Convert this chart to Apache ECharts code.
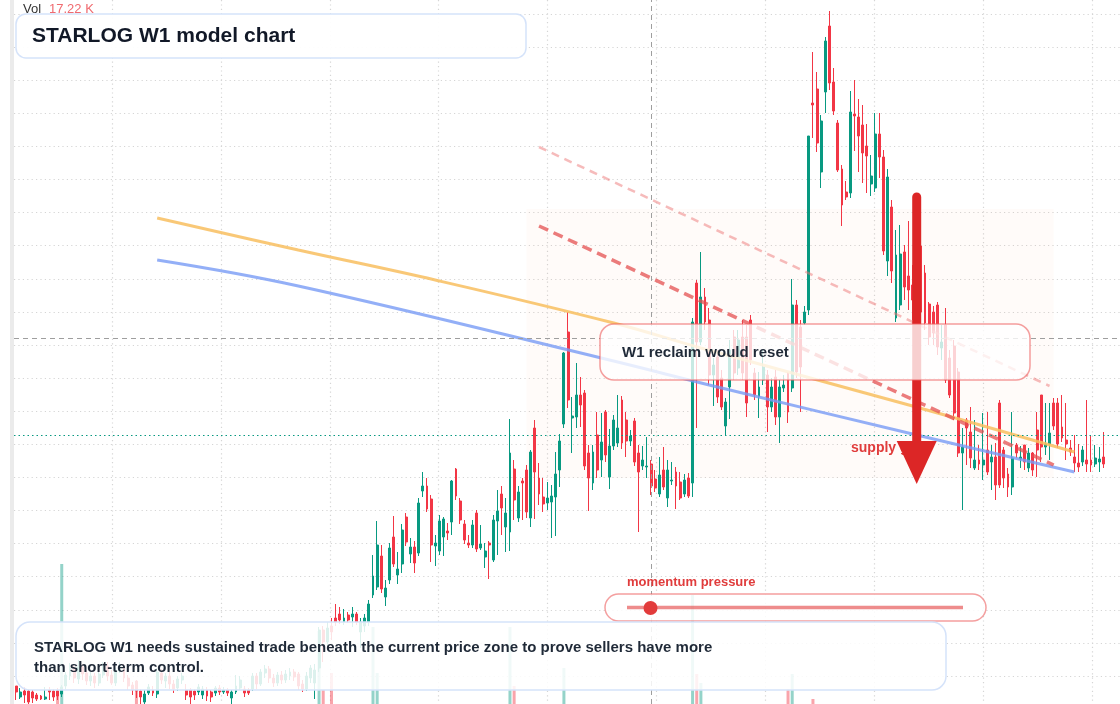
<!DOCTYPE html>
<html>
<head>
<meta charset="utf-8">
<title>STARLOG W1 model chart</title>
<script src="https://cdn.jsdelivr.net/npm/echarts@6/dist/echarts.min.js"></script>
<style>
  html, body { margin: 0; padding: 0; background: #fff; }
  #chart { width: 1120px; height: 704px; }
</style>
</head>
<body>
<div id="chart"></div>
<script>
// candles: [open, close, low, high]
const candles = [
  [3.8, 3.2, 2.4, 3.8], [2.7, 3.2, 2.5, 3.6], [3.3, 2.9, 2.1, 3.7], [3.3, 2.2, 2.0, 3.4], [3.2, 2.6, 2.1, 3.4],
  [2.9, 2.5, 2.3, 3.1], [2.8, 2.5, 2.4, 2.9], [2.5, 2.7, 2.4, 3.7], [3.4, 3.2, 2.4, 3.7], [3.3, 2.7, 2.3, 3.5],
  [3.3, 2.8, 2.4, 3.6], [3.0, 3.7, 2.7, 3.9], [3.8, 4.9, 3.5, 5.2], [4.8, 5.6, 4.4, 6.1], [5.6, 4.6, 4.1, 5.9],
  [4.5, 5.7, 4.0, 6.4], [5.7, 5.0, 4.4, 6.0], [5.1, 4.3, 3.9, 5.4], [4.3, 4.8, 3.8, 5.2], [4.8, 4.1, 3.6, 5.1],
  [4.1, 5.0, 3.8, 5.4], [4.9, 5.8, 4.6, 6.2], [5.8, 4.8, 4.3, 6.2], [4.9, 4.1, 3.9, 5.4], [4.1, 5.4, 3.8, 5.6],
  [5.3, 5.8, 5.1, 6.2], [5.8, 4.6, 4.2, 6.0], [4.6, 3.8, 3.4, 4.9], [3.9, 3.4, 2.9, 4.2], [4.3, 3.3, 2.6, 4.4],
  [3.3, 2.7, 2.0, 3.5], [2.2, 3.0, 2.0, 3.4], [3.1, 3.7, 2.9, 4.0], [3.4, 3.1, 2.8, 3.8], [3.0, 5.2, 2.6, 5.6],
  [5.1, 4.4, 4.0, 5.5], [4.3, 4.8, 3.6, 5.1], [4.8, 4.0, 3.5, 5.2], [4.0, 3.5, 3.1, 4.4], [3.6, 4.5, 3.3, 4.8],
  [4.4, 4.8, 4.0, 5.1], [3.4, 2.9, 2.4, 4.0], [3.4, 2.7, 2.0, 3.6], [3.3, 2.9, 2.4, 3.5], [3.2, 3.7, 2.9, 4.0],
  [2.9, 3.5, 2.5, 3.8], [3.4, 2.8, 2.3, 3.7], [3.2, 2.7, 2.2, 3.4], [3.1, 3.6, 2.8, 3.8], [3.6, 3.2, 2.9, 3.9],
  [3.2, 3.4, 3.0, 3.7], [3.4, 3.1, 2.8, 3.6], [2.6, 3.2, 2.0, 3.4], [3.2, 3.8, 3.0, 4.9], [3.6, 4.4, 3.4, 4.8],
  [3.5, 3.1, 2.7, 3.8], [3.4, 3.1, 2.9, 3.6], [3.5, 4.8, 3.3, 5.1], [4.8, 4.0, 3.5, 5.1], [4.0, 5.2, 3.8, 5.5],
  [5.1, 5.5, 4.6, 5.9], [5.5, 4.6, 4.1, 5.8], [4.6, 4.1, 3.7, 5.0], [4.1, 4.9, 3.8, 5.2], [4.9, 4.4, 4.0, 5.3],
  [4.4, 5.0, 4.1, 5.4], [4.8, 5.2, 4.4, 5.6], [5.2, 4.7, 4.3, 5.5], [5.0, 3.8, 3.4, 5.2], [4.0, 3.5, 3.2, 4.4],
  [3.5, 4.8, 3.3, 5.2], [4.6, 5.6, 4.1, 5.9], [4.1, 5.4, 2.5, 6.0], [5.6, 9.4, 5.2, 9.7], [9.4, 8.2, 6.2, 9.8],
  [8.2, 9.6, 7.6, 10.2], [9.8, 9.2, 8.4, 10.6], [10.6, 10.2, 9.8, 12.0], [11.0, 10.4, 10.0, 11.7], [10.2, 10.6, 9.9, 11.5],
  [10.9, 10.4, 10.1, 11.2], [10.7, 11.0, 9.7, 11.7], [11.0, 10.2, 9.9, 11.2], [9.2, 10.2, 7.6, 10.6], [9.8, 10.6, 9.2, 11.0],
  [10.2, 12.0, 9.8, 12.4], [12.9, 14.8, 12.6, 16.9], [13.7, 17.9, 13.4, 20.3], [16.8, 13.5, 13.1, 17.9], [12.7, 13.6, 11.8, 14.4],
  [14.4, 17.6, 14.0, 18.1], [18.7, 16.0, 15.7, 20.8], [14.9, 15.5, 14.0, 17.2], [16.0, 19.4, 15.1, 20.0], [20.7, 18.2, 17.8, 21.1],
  [17.0, 17.7, 16.1, 18.6], [17.7, 16.1, 15.1, 18.3], [17.1, 22.1, 16.8, 22.6], [23.3, 23.8, 22.7, 25.2], [23.8, 21.5, 21.2, 24.6],
  [22.5, 17.9, 16.2, 22.9], [17.8, 18.1, 15.8, 18.9], [17.3, 20.3, 16.9, 20.9], [18.7, 20.5, 16.8, 20.7], [19.3, 19.1, 18.4, 20.1],
  [20.2, 24.3, 18.9, 24.4], [25.5, 22.8, 22.4, 25.6], [22.3, 20.4, 20.0, 22.6], [20.0, 18.4, 18.0, 20.4], [18.1, 17.9, 17.6, 18.9],
  [17.9, 19.9, 17.6, 20.4], [21.1, 17.5, 17.2, 21.4], [17.6, 18.0, 17.4, 19.9], [16.7, 17.3, 15.6, 18.1], [18.1, 17.9, 14.5, 18.3],
  [16.4, 20.4, 16.2, 20.9], [20.3, 21.3, 16.9, 23.4], [23.0, 21.6, 18.9, 23.8], [19.7, 21.1, 17.2, 22.6], [19.2, 27.1, 17.3, 30.5],
  [25.5, 22.4, 20.4, 26.4], [20.6, 23.2, 20.2, 23.8], [24.3, 24.1, 20.4, 24.6], [25.4, 21.2, 20.6, 25.9], [20.6, 27.2, 19.7, 27.4],
  [29.6, 25.2, 20.5, 30.4], [24.6, 23.0, 21.9, 26.1], [22.7, 22.0, 21.2, 24.6], [22.1, 22.6, 21.4, 24.2], [22.2, 22.8, 18.6, 23.9],
  [22.7, 25.0, 18.8, 27.2], [25.4, 28.3, 23.7, 29.0], [30.0, 37.1, 29.6, 37.2], [39.2, 32.4, 31.6, 41.2], [30.6, 30.8, 27.1, 32.7],
  [30.7, 32.9, 29.6, 36.1], [32.9, 31.9, 29.7, 34.7], [33.1, 25.8, 25.4, 33.4], [27.1, 24.6, 21.3, 27.9], [24.1, 27.2, 23.4, 27.9],
  [28.9, 25.4, 24.6, 31.2], [26.4, 28.2, 24.7, 31.1], [31.2, 26.9, 26.2, 31.4], [24.7, 27.8, 23.5, 29.5], [27.8, 30.4, 27.4, 30.9],
  [28.1, 29.6, 27.7, 32.9], [32.4, 28.1, 27.5, 32.8], [30.4, 28.3, 26.7, 31.2], [28.3, 28.8, 27.8, 29.4], [30.3, 26.2, 25.8, 30.6],
  [27.1, 25.2, 19.2, 27.9], [25.8, 26.4, 25.4, 27.8], [25.7, 25.8, 24.6, 28.7], [26.0, 23.8, 22.9, 26.4], [24.5, 23.6, 23.2, 25.4],
  [23.0, 24.9, 22.7, 26.7], [25.4, 23.7, 23.4, 27.7], [22.6, 25.4, 21.7, 26.4], [24.3, 24.4, 23.9, 26.2], [25.2, 23.8, 21.5, 25.7],
  [24.2, 22.6, 22.4, 25.2], [23.0, 24.4, 22.7, 25.0], [24.6, 22.8, 22.6, 25.1], [24.1, 40.2, 22.7, 40.6], [44.1, 38.2, 29.6, 44.4],
  [38.2, 42.7, 37.9, 47.2], [42.7, 40.2, 39.4, 43.6], [40.4, 34.9, 33.9, 41.6], [34.9, 35.9, 31.8, 36.6], [36.7, 32.7, 32.1, 37.4],
  [34.6, 31.7, 31.4, 35.4], [29.8, 32.2, 28.9, 32.6], [33.7, 37.4, 30.5, 38.4], [38.7, 35.1, 34.4, 39.4], [35.6, 38.4, 34.9, 39.4],
  [38.7, 35.1, 34.4, 40.4], [38.7, 32.1, 30.7, 39.9], [40.4, 36.4, 35.9, 40.9], [35.1, 32.9, 32.4, 35.6], [32.7, 33.7, 30.6, 35.2],
  [34.4, 35.7, 33.9, 37.4], [34.9, 31.7, 29.2, 35.4], [31.7, 33.7, 31.2, 34.6], [34.7, 30.7, 29.9, 35.4], [30.7, 33.7, 28.1, 34.4],
  [33.6, 33.9, 33.2, 34.9], [35.1, 31.2, 30.1, 35.2], [33.6, 41.9, 33.2, 44.5], [41.9, 35.2, 34.6, 42.4], [39.7, 35.7, 31.2, 40.4],
  [40.1, 41.2, 39.9, 41.8], [41.4, 58.8, 40.9, 58.8], [62.1, 61.9, 58.6, 67.2], [63.5, 58.1, 57.2, 65.2], [55.2, 60.3, 53.6, 60.9],
  [63.2, 68.3, 61.1, 68.7], [69.8, 64.1, 63.4, 71.3], [64.2, 61.3, 60.9, 65.6], [60.1, 55.4, 55.2, 60.4], [55.5, 51.9, 49.8, 55.9],
  [53.2, 52.7, 52.4, 54.3], [53.1, 61.2, 52.6, 63.3], [61.0, 60.8, 57.3, 64.4], [60.7, 58.8, 55.2, 62.5], [59.9, 57.1, 54.1, 61.9],
  [57.8, 56.8, 53.1, 60.0], [54.0, 54.8, 52.8, 56.9], [53.6, 59.0, 53.2, 61.1], [59.0, 56.7, 54.6, 61.1], [56.7, 47.3, 46.9, 57.4],
  [46.3, 54.7, 44.8, 55.5], [51.7, 45.3, 44.1, 52.4], [40.6, 46.9, 40.2, 49.4], [41.9, 47.0, 41.4, 49.9], [47.2, 43.7, 42.4, 47.9],
  [44.8, 43.4, 41.4, 50.3], [43.9, 42.4, 40.4, 45.9], [42.9, 39.4, 38.4, 44.4], [47.8, 41.2, 40.4, 48.4], [45.1, 40.1, 39.4, 45.9],
  [42.0, 38.7, 37.9, 42.2], [41.2, 39.1, 37.9, 41.8], [41.9, 37.7, 36.9, 42.2], [37.6, 38.2, 36.4, 39.9], [39.9, 34.4, 34.1, 41.6],
  [36.6, 32.9, 32.6, 37.4], [37.8, 31.1, 30.4, 38.4], [35.2, 27.1, 26.7, 35.6], [27.1, 27.7, 21.4, 29.6], [30.4, 29.6, 25.9, 30.6],
  [29.2, 26.6, 25.6, 31.7], [25.6, 26.4, 25.4, 30.4], [26.4, 26.0, 25.4, 27.9], [25.9, 26.4, 24.4, 31.1], [27.4, 25.2, 24.9, 31.2],
  [26.2, 26.7, 23.4, 27.9], [26.7, 23.9, 22.4, 28.1], [32.1, 23.9, 23.6, 32.4], [27.4, 24.6, 23.6, 27.7], [25.0, 23.7, 22.7, 25.6],
  [23.7, 26.6, 22.9, 31.2], [27.9, 27.1, 26.6, 28.1], [26.5, 26.7, 25.6, 27.8], [27.9, 26.2, 25.4, 27.9], [25.6, 27.1, 25.2, 27.6],
  [27.1, 25.4, 24.8, 27.2], [29.4, 27.4, 24.7, 31.2], [32.9, 27.7, 26.2, 32.9], [27.7, 28.0, 26.9, 32.1], [28.0, 29.1, 26.4, 32.1],
  [32.1, 29.8, 29.4, 32.6], [32.1, 28.0, 27.6, 32.6], [29.7, 28.6, 28.2, 32.9], [28.4, 28.0, 26.4, 32.1], [27.6, 27.2, 26.8, 28.4],
  [26.7, 26.1, 25.2, 28.9], [26.1, 25.7, 25.2, 28.0], [26.2, 27.4, 25.8, 27.8], [26.4, 26.0, 25.2, 32.4], [26.4, 25.9, 25.2, 28.8],
  [26.0, 26.6, 25.7, 27.9], [26.2, 26.5, 25.2, 27.7], [26.7, 26.0, 25.6, 29.2]
];

// volume in K
const volumes = [
  3.1, 2.4, 4.2, 3.5, 2.8, 1.9, 2.2, 3.0, 2.6, 3.8, 7.0, 19.6, 4.5, 3.2, 2.7, 4.1, 3.3, 2.5, 2.9, 3.6,
  2.1, 3.4, 4.4, 2.8, 3.9, 2.3, 3.1, 4.6, 3.7, 7.4, 4.8, 3.0, 2.6, 3.3, 4.9, 2.4, 3.5, 2.9, 3.8, 2.2,
  3.2, 4.0, 4.7, 2.8, 3.6, 2.5, 3.9, 4.3, 2.7, 3.1, 2.4, 3.4, 4.5, 3.0, 2.6, 3.8, 4.2, 2.9, 3.3, 2.5,
  3.7, 4.1, 2.8, 3.2, 2.6, 3.9, 3.0, 2.4, 4.4, 3.6, 2.9, 4.8, 5.2, 12.9, 7.0, 4.6, 8.7, 4.1, 3.4, 2.8,
  3.5, 3.0, 4.2, 2.7, 3.8, 5.1, 13.3, 8.7, 4.9, 3.6, 4.4, 5.0, 3.2, 4.7, 3.9, 2.9, 3.4, 5.3, 4.1, 3.6,
  4.8, 3.1, 3.7, 4.3, 2.8, 5.0, 4.4, 3.5, 2.9, 2.6, 3.3, 4.6, 3.0, 2.7, 3.8, 4.2, 3.5, 3.1, 2.9, 13.3,
  7.4, 4.1, 3.2, 4.5, 5.1, 4.8, 3.6, 2.9, 2.5, 3.4, 4.0, 5.2, 9.2, 5.4, 4.1, 3.7, 3.3, 4.9, 4.2, 3.6,
  4.4, 3.8, 4.1, 3.5, 3.2, 2.9, 3.9, 3.3, 2.7, 4.0, 4.6, 3.1, 2.8, 3.4, 3.0, 3.6, 3.2, 3.9, 2.6, 3.5,
  3.0, 2.8, 3.3, 16.5, 8.6, 7.7, 4.6, 5.2, 3.9, 4.4, 3.7, 4.1, 4.8, 3.6, 3.2, 3.9, 4.5, 3.4, 3.0, 2.9,
  3.3, 3.8, 3.1, 4.0, 3.5, 2.8, 7.1, 8.6, 5.4, 4.3, 3.6, 5.5, 6.1, 5.3, 4.7, 5.0, 5.4, 4.6, 4.2, 4.9,
  3.8, 5.1, 4.4, 3.9, 4.1, 3.6, 3.3, 4.5, 3.8, 5.2, 4.7, 4.3, 4.9, 4.0, 3.7, 3.4, 4.2, 4.6, 5.0, 4.1,
  3.6, 3.3, 4.0, 2.9, 4.4, 3.7, 4.3, 5.1, 4.8, 3.5, 3.2, 2.9, 2.6, 3.4, 3.0, 3.6, 3.9, 4.2, 3.1, 2.8,
  3.5, 2.7, 2.4, 3.0, 2.6, 2.9, 3.7, 4.1, 3.2, 2.8, 3.4, 3.6, 3.0, 2.7, 2.5, 2.9, 2.6, 2.4, 3.1, 2.8,
  2.5, 2.7, 3.0
];

const emptyTail = 3;
const categories = candles.concat(new Array(emptyTail).fill(null)).map((_, i) => String(i));

// overlays in [candle index, price]
const w1Orange = [[34, 50.6], [68, 47.4], [101, 44.4], [144, 40.1], [165, 37.6], [216, 31.8], [255, 27.2]];
const w1Blue = [[34, 46.4], [68, 43.8], [141, 36.6], [170, 33.6], [216, 29.0], [255, 25.2]];
const upperChannel = [[126, 57.7], [249, 33.8]];
const lowerChannel = [[126, 49.8], [250, 25.9]];
const zone = { from: 123, to: 250, top: 51.5, bottom: 24.6 };
const supplyArrow = [217, 52.7, 24.0, 28.3]; // index, top, tip, head base
const lastPrice = 28.9;
const crosshair = { index: 153, price: 38.6 };
const momentum = 0.07;

const UP = '#089981';
const DOWN = '#f23645';
const FONT = '"Liberation Sans", Arial, sans-serif';

const chart = echarts.init(document.getElementById('chart'));

const dotted = { color: '#d5d5d5', width: 1.2, type: [1.2, 3.2] };
const hidden = { axisLine: { show: false }, axisTick: { show: false }, axisLabel: { show: false } };

const slideX = 627 + (963 - 627) * momentum;

chart.setOption({
  animation: false,
  backgroundColor: '#fff',
  grid: [
    { left: 14, right: 2, top: 0, bottom: 0, outerBoundsMode: 'none' },
    { left: 14, right: 2, top: 560, bottom: 0, outerBoundsMode: 'none' },
    { left: 14, right: 0, top: 14, bottom: 28, outerBoundsMode: 'none' },
    { left: 112, right: 27.9, top: 0, bottom: 0, outerBoundsMode: 'none' },
  ],
  xAxis: [
    { type: 'category', gridIndex: 0, data: categories, show: false },
    { type: 'category', gridIndex: 1, data: categories, show: false },
    { type: 'value', gridIndex: 2, min: 0, max: 1, show: false },
    { type: 'value', gridIndex: 3, min: 0, max: 9, interval: 1, ...hidden, splitLine: { show: true, lineStyle: dotted } },
  ],
  yAxis: [
    { type: 'value', gridIndex: 0, min: 2, max: 72.4, show: false },
    { type: 'value', gridIndex: 1, min: 5.6, max: 20, show: false },
    { type: 'value', gridIndex: 2, min: 0, max: 20, interval: 1, ...hidden, splitLine: { show: true, lineStyle: dotted } },
    { type: 'value', gridIndex: 3, min: 0, max: 1, show: false },
  ],
  series: [
    {
      type: 'bar',
      xAxisIndex: 1,
      yAxisIndex: 1,
      barWidth: 3,
      data: volumes.map((v, i) => ({
        value: v,
        itemStyle: { color: candles[i][1] >= candles[i][0] ? 'rgba(8,153,129,0.43)' : 'rgba(242,54,69,0.45)' },
      })),
      z: 1,
    },
    {
      type: 'candlestick',
      xAxisIndex: 0,
      yAxisIndex: 0,
      barWidth: 2.4,
      data: candles,
      itemStyle: { color: UP, color0: DOWN, borderColor: UP, borderColor0: DOWN, borderWidth: 1 },
      markArea: {
        silent: true,
        itemStyle: { color: 'rgba(245,160,100,0.04)' },
        data: [[{ xAxis: zone.from, yAxis: zone.top }, { xAxis: zone.to, yAxis: zone.bottom }]],
      },
      markLine: {
        silent: true,
        symbol: ['none', 'none'],
        label: { show: false },
        data: [
          { yAxis: lastPrice, lineStyle: { color: UP, width: 1, type: [1.5, 3] } },
          { xAxis: crosshair.index, lineStyle: { color: '#9e9e9e', width: 1, type: [5, 4] } },
          { yAxis: crosshair.price, lineStyle: { color: '#9e9e9e', width: 1, type: [5, 4] } },
        ],
      },
      z: 2,
    },
    {
      type: 'line', xAxisIndex: 0, yAxisIndex: 0, data: w1Orange, smooth: 0.4, showSymbol: false, silent: true,
      lineStyle: { color: 'rgba(248,190,95,0.85)', width: 3 }, z: 3,
    },
    {
      type: 'line', xAxisIndex: 0, yAxisIndex: 0, data: w1Blue, smooth: 0.4, showSymbol: false, silent: true,
      lineStyle: { color: 'rgba(120,155,245,0.8)', width: 3 }, z: 3,
    },
    {
      type: 'line', xAxisIndex: 0, yAxisIndex: 0, data: upperChannel, showSymbol: false, silent: true,
      lineStyle: { color: 'rgba(238,120,120,0.5)', width: 2.5, type: [8, 6] }, z: 3,
    },
    {
      type: 'line', xAxisIndex: 0, yAxisIndex: 0, data: lowerChannel, showSymbol: false, silent: true,
      lineStyle: { color: 'rgba(228,80,80,0.75)', width: 3.5, type: [10, 6] }, z: 3,
    },
    {
      type: 'custom',
      xAxisIndex: 0,
      yAxisIndex: 0,
      silent: true,
      z: 5,
      data: [supplyArrow],
      renderItem: (params, api) => {
        const top = api.coord([api.value(0), api.value(1)]);
        const tip = api.coord([api.value(0), api.value(2)]);
        const base = api.coord([api.value(0), api.value(3)]);
        return {
          type: 'group',
          children: [
            {
              type: 'line',
              shape: { x1: top[0], y1: top[1], x2: base[0], y2: base[1] + 2 },
              style: { stroke: '#dc2626', lineWidth: 9, lineCap: 'round' },
            },
            {
              type: 'polygon',
              shape: { points: [[tip[0] - 20, base[1]], [tip[0] + 20, base[1]], [tip[0], tip[1]]] },
              style: { fill: '#dc2626' },
            },
          ],
        };
      },
    },
  ],
  graphic: [
    { type: 'rect', z: 1, shape: { x: 10, y: 0, width: 4, height: 704 }, style: { fill: '#ebebeb' } },
    {
      type: 'text', z: 4, x: 851, y: 448,
      style: { text: 'supply gate', font: 'bold 14px ' + FONT, fill: '#e03c3c', verticalAlign: 'middle' },
    },
    {
      type: 'rect', z: 6, shape: { x: 600, y: 324, width: 430, height: 56, r: 14 },
      style: { fill: 'rgba(255,255,255,0.78)', stroke: 'rgba(236,95,95,0.6)', lineWidth: 1.5 },
    },
    {
      type: 'text', z: 6, x: 622, y: 353,
      style: { text: 'W1 reclaim would reset', font: 'bold 15px ' + FONT, fill: '#1f2937', verticalAlign: 'middle' },
    },
    {
      type: 'text', z: 7, x: 23, y: 9,
      style: { text: 'Vol', font: '13px ' + FONT, fill: '#333', verticalAlign: 'middle' },
    },
    {
      type: 'text', z: 7, x: 49, y: 9,
      style: { text: '17.22 K', font: '13px ' + FONT, fill: '#f06a6f', verticalAlign: 'middle' },
    },
    {
      type: 'rect', z: 7, shape: { x: 16, y: 14, width: 510, height: 44, r: 10 },
      style: { fill: 'rgba(255,255,255,0.94)', stroke: '#d5e3fa', lineWidth: 1.5 },
    },
    {
      type: 'text', z: 7, x: 32, y: 36,
      style: { text: 'STARLOG W1 model chart', font: 'bold 21px ' + FONT, fill: '#111827', verticalAlign: 'middle' },
    },
    {
      type: 'text', z: 7, x: 627, y: 582,
      style: { text: 'momentum pressure', font: 'bold 13px ' + FONT, fill: '#e03c3c', verticalAlign: 'middle' },
    },
    {
      type: 'rect', z: 7, shape: { x: 605, y: 594, width: 381, height: 27, r: 13.5 },
      style: { fill: 'rgba(255,255,255,0.85)', stroke: 'rgba(236,95,95,0.6)', lineWidth: 1.5 },
    },
    {
      type: 'line', z: 7, shape: { x1: 627, y1: 607.5, x2: 963, y2: 607.5 },
      style: { stroke: 'rgba(228,70,70,0.62)', lineWidth: 3.5 },
    },
    { type: 'circle', z: 7, shape: { cx: slideX, cy: 608, r: 7 }, style: { fill: '#e23b3b' } },
    {
      type: 'rect', z: 7, shape: { x: 16, y: 622, width: 930, height: 68, r: 14 },
      style: { fill: 'rgba(255,255,255,0.86)', stroke: '#d5e3fa', lineWidth: 1.5 },
    },
    {
      type: 'text', z: 7, x: 34, y: 648,
      style: {
        text: 'STARLOG W1 needs sustained trade beneath the current price zone to prove sellers have more',
        font: 'bold 15px ' + FONT, fill: '#1f2937', verticalAlign: 'middle',
      },
    },
    {
      type: 'text', z: 7, x: 34, y: 668,
      style: { text: 'than short-term control.', font: 'bold 15px ' + FONT, fill: '#1f2937', verticalAlign: 'middle' },
    },
  ],
});
</script>
</body>
</html>
